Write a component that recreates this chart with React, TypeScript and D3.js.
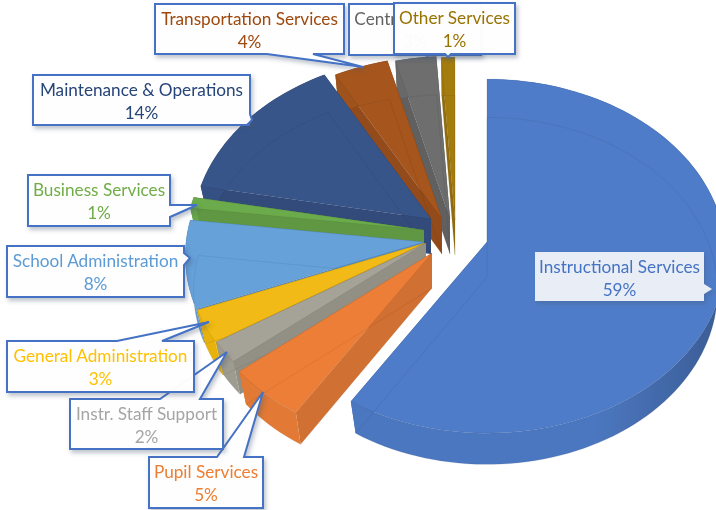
import React from 'react';
import * as d3 from 'd3';

const categories = [
  'Instructional Services',
  'Pupil Services',
  'Instr. Staff Support',
  'General Administration',
  'School Administration',
  'Business Services',
  'Maintenance & Operations',
  'Transportation Services',
  'Central Services',
  'Other Services',
];
const values = [59, 5, 2, 3, 8, 1, 14, 4, 3, 1];
const colors = ['#4f7cc8', '#ec7e38', '#a5a297', '#f2ba12', '#66a1da', '#6cab4c', '#38558a', '#a6561e', '#6e6e6e', '#a47c10'];
const textColors = ['#4472c4', '#ed7d31', '#a5a5a5', '#ffc000', '#5b9bd5', '#70ad47', '#264478', '#9e480e', '#636363', '#997300'];

// where each exploded slice has its apex on the page
const apexX = [487, 432, 426, 425, 424, 424, 431, 442, 450, 455];
const apexY = [242, 253, 243, 243, 242, 230, 219, 219, 219, 220];

// callout boxes: box x0,y0,x1,y1 and pointer base a, tip, base b
const boxes = [
  [535, 252, 704, 301],
  [149, 457, 263, 508],
  [70, 399, 223, 449],
  [7, 341, 194, 392],
  [7, 246, 184, 297],
  [28, 175, 170, 226],
  [33, 75, 250, 125],
  [155, 4, 344, 54],
  [349, 4, 481, 55],
  [394, 3, 515, 54],
];
const pointers = [
  [[704, 284], [712, 289], [704, 294]],
  [[217, 457], [263, 392], [244, 457]],
  [[160, 399], [227, 352], [200, 399]],
  [[117, 341], [209, 322], [162, 341]],
  [[184, 253], [190, 258], [184, 265]],
  [[170, 205], [197, 205], [170, 217]],
  [[250, 114], [252, 120], [247, 125]],
  [[267, 54], [363, 67], [313, 54]],
  [[425, 55], [427, 56], [430, 55]],
  [[445, 54], [448, 57], [451, 54]],
];

const RX = 238;
const RY = 177;
const PERSP = 0.08;
const DEPTH = 35;
const BOTTOM_SX = 0.965;
const BOTTOM_SY = 0.98;

type Pt = [number, number];

const project = (a: number, r: number, cx: number, cy: number, bottom: boolean): Pt => {
  const px = Math.sin(a) * r;
  const py = -Math.cos(a) * r;
  const f = 1 + py * PERSP;
  const sx = bottom ? BOTTOM_SX : 1;
  const sy = bottom ? BOTTOM_SY : 1;
  return [cx + RX * px * f * sx, cy + RY * py * f * sy + (bottom ? DEPTH : 0)];
};

const line = d3.line<Pt>();
const closed = (pts: Pt[]) => `${line(pts)}Z`;

const pieData = d3
  .pie<number>()
  .sort(null)
  .startAngle(0)
  .endAngle(Math.PI * 2)(values);

const STEP = (2 * Math.PI) / 180;

const Slice = ({ i }: { i: number }) => {
  const d = pieData[i];
  const cx = apexX[i];
  const cy = apexY[i];
  const n = Math.max(2, Math.ceil((d.endAngle - d.startAngle) / STEP));
  const angles = d3.range(n + 1).map((k) => d.startAngle + ((d.endAngle - d.startAngle) * k) / n);
  const topArc = angles.map((a) => project(a, 1, cx, cy, false));
  const botArc = angles.map((a) => project(a, 1, cx, cy, true));
  const topApex: Pt = [cx, cy];
  const botApex: Pt = [cx, cy + DEPTH];
  const base = d3.color(colors[i])!;
  const wall = base.darker(0.35).formatHex();
  const edge = base.darker(1.4).formatHex();

  return (
    <g>
      <defs>
        <linearGradient id={`wall${i}`} gradientUnits="userSpaceOnUse" x1={cx + RX * 0.45} y1={0} x2={cx + RX} y2={0}>
          <stop offset="0" stopColor={base.darker(0.12).formatHex()} />
          <stop offset="1" stopColor={base.darker(0.85).formatHex()} />
        </linearGradient>
      </defs>
      <path d={closed([topApex, botApex, botArc[0], topArc[0]])} fill={wall} />
      <path d={closed([topApex, botApex, botArc[n], topArc[n]])} fill={wall} />
      <path d={closed([...topArc, ...botArc.slice().reverse()])} fill={`url(#wall${i})`} />
      <path d={closed([topApex, ...topArc])} fill={colors[i]} />
      <path d={closed([botApex, ...botArc])} fill="none" stroke={edge} strokeOpacity={0.16} strokeWidth={1} />
      <path d={closed([topApex, ...topArc])} fill="none" stroke={edge} strokeOpacity={0.2} strokeWidth={0.8} />
    </g>
  );
};

const Callout = ({ i }: { i: number }) => {
  const [x0, y0, x1, y1] = boxes[i];
  const [a, tip, b] = pointers[i];
  const mid = (x0 + x1) / 2;
  // outline walks the box and splices the pointer into whichever side it sits on
  const corners: Pt[] = [[x0, y0], [x1, y0], [x1, y1], [x0, y1]];
  const onTop = a[1] === y0;
  const onRight = a[0] === x1;
  const onBottom = a[1] === y1;
  const pts: Pt[] = [corners[0]];
  if (onTop) pts.push(a as Pt, tip as Pt, b as Pt);
  pts.push(corners[1]);
  if (onRight) pts.push(a as Pt, tip as Pt, b as Pt);
  pts.push(corners[2]);
  if (onBottom) pts.push(b as Pt, tip as Pt, a as Pt);
  pts.push(corners[3]);

  return (
    <g>
      <path
        d={closed(pts)}
        fill="#ffffff"
        fillOpacity={i === 0 ? 0.86 : 0.97}
        stroke={i === 0 ? 'none' : '#4472c4'}
        strokeWidth={2}
        strokeLinejoin="miter"
        filter="url(#calloutShadow)"
      />
      <text x={mid} y={y0 + 21} textAnchor="middle" fontFamily="Lato, sans-serif" fontSize={17.2} fill={textColors[i]}>
        {categories[i]}
      </text>
      <text x={mid} y={y0 + 43.5} textAnchor="middle" fontFamily="Lato, sans-serif" fontSize={17.2} fill={textColors[i]}>
        {`${values[i]}%`}
      </text>
    </g>
  );
};

export default function App() {
  // back slices first so the front ones paint over them
  const order = [9, 8, 7, 6, 5, 4, 3, 2, 1, 0];
  return (
    <svg
      width={716}
      height={510}
      viewBox="0 0 716 510"
      style={{ position: 'absolute', left: 0, top: 0, background: '#fff' }}
    >
      <defs>
        <filter id="calloutShadow" x="-10%" y="-20%" width="125%" height="150%">
          <feDropShadow dx="2" dy="3" stdDeviation="2" floodColor="#44546a" floodOpacity="0.35" />
        </filter>
        <filter id="soften" filterUnits="userSpaceOnUse" x="0" y="0" width="716" height="510">
          <feGaussianBlur stdDeviation="0.35" />
        </filter>
      </defs>
      <g filter="url(#soften)">
        {order.map((i) => (
          <Slice key={i} i={i} />
        ))}
        {order
          .slice()
          .reverse()
          .map((i) => (
            <Callout key={i} i={i} />
          ))}
      </g>
    </svg>
  );
}
